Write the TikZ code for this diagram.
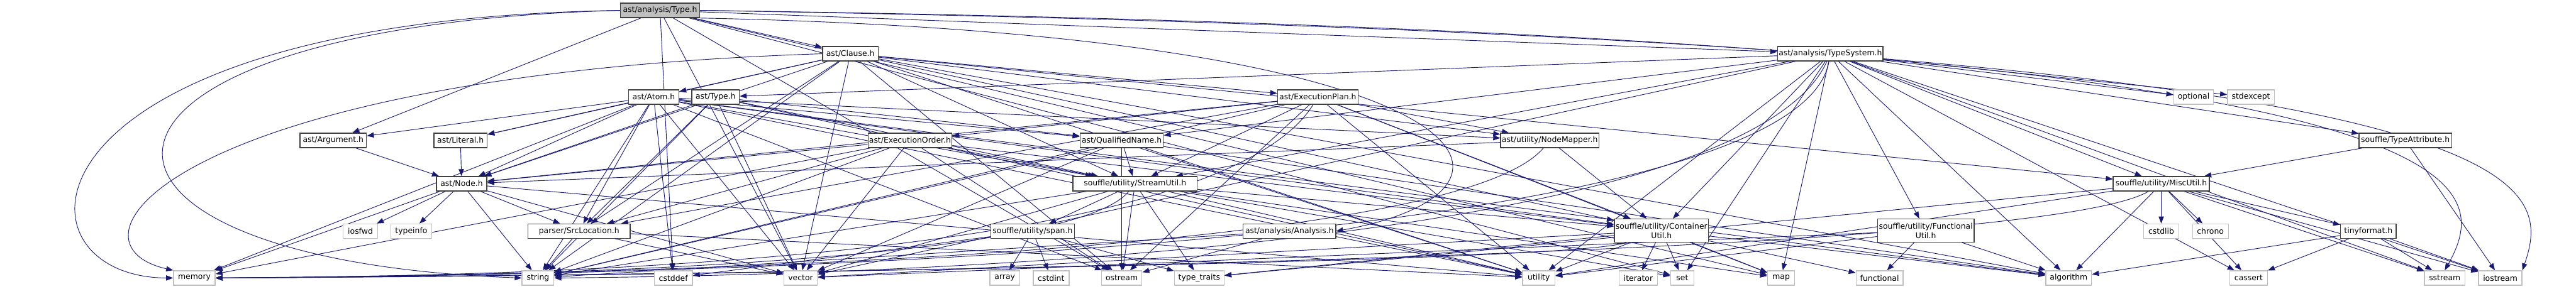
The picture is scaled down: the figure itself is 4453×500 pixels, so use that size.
\documentclass[tikz,border=0pt]{standalone}
\usepackage{fontspec}
\setmainfont{DejaVu Sans}
\usetikzlibrary{arrows.meta}
\definecolor{eblue}{HTML}{191970}
\definecolor{dborder}{HTML}{404040}
\definecolor{lborder}{HTML}{C0C0C0}
\definecolor{gfill}{HTML}{BFBFBF}
\pgfdeclarelayer{bg}
\pgfsetlayers{bg,main}
\begin{document}
\begin{tikzpicture}[x=1pt,y=-1pt,
  base/.style={fill=white, inner sep=0pt, minimum height=25pt, font=\fontsize{13.5}{16}\selectfont, align=center},
  own/.style={base, draw=dborder, line width=1.5pt},
  sys/.style={base, draw=lborder, line width=1.5pt},
  e/.style={draw=eblue, line width=1pt, -{Triangle[length=12pt,width=9pt]}}]
\useasboundingbox (0,0) rectangle (4453,500);
% rank 0
\node[own, fill=gfill, minimum width=137pt] (T) at (1141,18) {ast/analysis/Type.h};
% rank 1
\node[own, minimum width=96pt] (C) at (1470,93) {ast/Clause.h};
\node[own, minimum width=182pt] (TS) at (3164,93) {ast/analysis/TypeSystem.h};
% rank 2
\node[own, minimum width=87pt] (A) at (1130,168) {ast/Atom.h};
\node[own, minimum width=82pt] (Ty) at (1237,168) {ast/Type.h};
\node[own, minimum width=139pt] (EP) at (2278,168) {ast/ExecutionPlan.h};
\node[sys, minimum width=69pt] (opt) at (3792,168) {optional};
\node[sys, minimum width=81pt] (stdx) at (3891,168) {stdexcept};
% rank 3
\node[own, minimum width=115pt] (Arg) at (576,243) {ast/Argument.h};
\node[own, minimum width=92pt] (Lit) at (796,243) {ast/Literal.h};
\node[own, minimum width=145pt] (EO) at (1573,243) {ast/ExecutionOrder.h};
\node[own, minimum width=144pt] (QN) at (1939,243) {ast/QualifiedName.h};
\node[own, minimum width=170pt] (NM) at (2679,243) {ast/utility/NodeMapper.h};
\node[own, minimum width=160pt] (TA) at (4158,243) {souffle/TypeAttribute.h};
% rank 4
\node[own, minimum width=87pt] (N) at (798,318) {ast/Node.h};
\node[own, minimum width=215pt] (SU) at (1962,318) {souffle/utility/StreamUtil.h};
\node[own, minimum width=166pt] (MU) at (3736,318) {souffle/utility/MiscUtil.h};
% rank 5
\node[sys, minimum width=60pt] (iosfwd) at (623,400) {iosfwd};
\node[sys, minimum width=71pt] (typeinfo) at (711,400) {typeinfo};
\node[own, minimum width=177pt] (SL) at (1001,400) {parser/SrcLocation.h};
\node[own, minimum width=145pt] (SP) at (1785,400) {souffle/utility/span.h};
\node[own, minimum width=160pt] (AN) at (2229,400) {ast/analysis/Analysis.h};
\node[own, minimum width=163pt, minimum height=40pt] (CU) at (2872,399) {souffle/utility/Container\\Util.h};
\node[own, minimum width=167pt, minimum height=40pt] (FU) at (3329,399) {souffle/utility/Functional\\Util.h};
\node[sys, minimum width=61pt] (cstdlib) at (3736,400) {cstdlib};
\node[sys, minimum width=62pt] (chrono) at (3821,400) {chrono};
\node[own, minimum width=96pt] (TF) at (4094,400) {tinyformat.h};
% rank 6
\node[sys, minimum width=72pt] (memory) at (336,481) {memory};
\node[sys, minimum width=55pt] (string) at (930,481) {string};
\node[sys, minimum width=66pt] (cstddef) at (1164,481) {cstddef};
\node[sys, minimum width=58pt] (vector) at (1384,481) {vector};
\node[sys, minimum width=52pt] (array) at (1737,481) {array};
\node[sys, minimum width=62pt] (cstdint) at (1817,481) {cstdint};
\node[sys, minimum width=70pt] (ostream) at (1939,481) {ostream};
\node[sys, minimum width=86pt] (typetraits) at (2073,481) {type\_traits};
\node[sys, minimum width=56pt] (utility) at (2660,481) {utility};
\node[sys, minimum width=66pt] (iterator) at (2832,481) {iterator};
\node[sys, minimum width=40pt] (set) at (2908,481) {set};
\node[sys, minimum width=47pt] (map) at (3079,481) {map};
\node[sys, minimum width=81pt] (functional) at (3249,481) {functional};
\node[sys, minimum width=79pt] (algorithm) at (3576,481) {algorithm};
\node[sys, minimum width=65pt] (cassert) at (3887,481) {cassert};
\node[sys, minimum width=70pt] (sstream) at (4226,481) {sstream};
\node[sys, minimum width=75pt] (iostream) at (4322,481) {iostream};

\begin{pgfonlayer}{bg}
% Type.h
\foreach \t in {Arg,C,TS,cstddef,vector,ostream,set,map} \draw[e] (T) -- (\t);
\draw[e] (T.west) .. controls (10,35) and (5,480) .. (memory.west);
\draw[e] (T.west) .. controls (60,45) and (40,450) .. (string.west);
\draw[e] (T.south east) .. controls (2600,60) and (2700,330) .. (AN.east);
\draw[e] (T.east) .. controls (4300,60) and (4321,300) .. (sstream.north);
\draw[e] (T.east) .. controls (4400,70) and (4418,300) .. (iostream.north east);
% Clause.h
\foreach \t in {A,EP,Lit,N,NM,SL,CU,MU,SU,algorithm,ostream,string,utility,vector} \draw[e] (C) -- (\t);
\draw[e] (C.west) .. controls (300,130) and (90,420) .. (memory.north west);
% Atom.h
\foreach \t in {Arg,Lit,N,QN,NM,SL,CU,SU,algorithm,cstddef,memory,ostream,string,utility,vector} \draw[e] (A) -- (\t);
% ast/Type.h
\foreach \t in {N,QN,SL,SU,string,utility,vector} \draw[e] (Ty) -- (\t);
% ExecutionPlan.h
\foreach \t in {EO,N,NM,SL,CU,SU,map,ostream,string,utility} \draw[e] (EP) -- (\t);
\draw[e] (EP) .. controls (2100,455) and (900,478) .. (memory.east);
% ExecutionOrder.h
\foreach \t in {N,SL,CU,SU,ostream,string,vector,memory} \draw[e] (EO) -- (\t);
% QualifiedName.h
\foreach \t in {SU,algorithm,ostream,string,utility,vector} \draw[e] (QN) -- (\t);
% NodeMapper.h
\foreach \t in {N,CU} \draw[e] (NM) -- (\t);
\draw[e] (NM) .. controls (2500,455) and (900,476) .. (memory.east);
% Argument / Literal
\draw[e] (Arg) -- (N);
\draw[e] (Lit) -- (N);
% Node.h
\foreach \t in {SL,iosfwd,typeinfo,memory,string,utility,vector} \draw[e] (N) -- (\t);
% SrcLocation.h
\foreach \t in {string,vector,utility} \draw[e] (SL) -- (\t);
% StreamUtil.h
\foreach \t in {SP,CU,map,ostream,set,string,typetraits,utility,vector} \draw[e] (SU) -- (\t);
\draw[e] (SU) .. controls (1850,455) and (900,480) .. (memory.east);
% span.h
\foreach \t in {array,cstdint,cstddef,typetraits} \draw[e] (SP) -- (\t);
% Analysis.h
\foreach \t in {ostream,string} \draw[e] (AN) -- (\t);
% ContainerUtil.h
\foreach \t in {algorithm,functional,iterator,map,set,typetraits,utility,vector} \draw[e] (CU) -- (\t);
\draw[e] (CU) .. controls (2700,458) and (900,478) .. (memory.east);
% FunctionalUtil.h
\foreach \t in {algorithm,functional,vector,utility} \draw[e] (FU) -- (\t);
% MiscUtil.h
\foreach \t in {TF,algorithm,cassert,chrono,cstdlib,iostream,sstream,typetraits,utility} \draw[e] (MU) -- (\t);
\draw[e] (MU) .. controls (3500,458) and (900,479) .. (memory.east);
% tinyformat.h
\foreach \t in {algorithm,cassert,iostream,sstream} \draw[e] (TF) -- (\t);
% TypeAttribute.h
\foreach \t in {MU,iostream} \draw[e] (TA) -- (\t);
% TypeSystem.h
\foreach \t in {QN,Ty,TA,CU,FU,MU,SU,algorithm,cassert,iostream,map,opt,set,sstream,stdx,utility,vector} \draw[e] (TS) -- (\t);
\draw[e] (TS) .. controls (3000,455) and (1300,478) .. (string.east);
\draw[e] (TS) .. controls (3100,460) and (900,477) .. (memory.east);
\end{pgfonlayer}
\end{tikzpicture}
\end{document}
